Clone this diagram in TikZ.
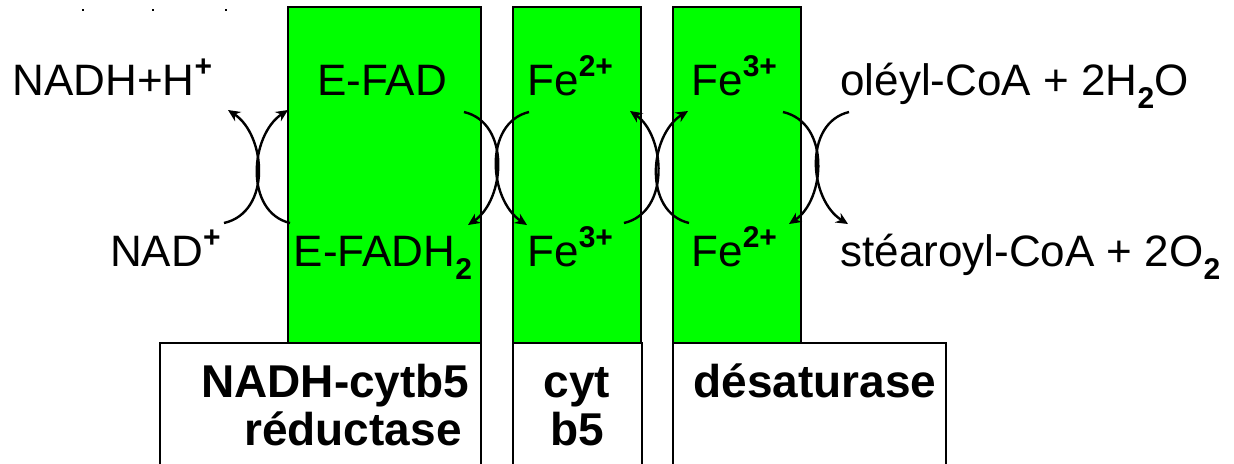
\documentclass[tikz,border=0pt]{standalone}
\usepackage{fontspec}
\setmainfont{Liberation Sans}
\usetikzlibrary{arrows.meta}
\definecolor{Lime}{RGB}{0,255,0}
\newcommand\up[1]{\raisebox{0.42em}{\fontsize{15}{15}\selectfont\bfseries #1}}
\newcommand\dn[1]{\raisebox{-0.3em}{\fontsize{15}{15}\selectfont\bfseries #1}}

\begin{document}
\begin{tikzpicture}[x=0.5pt,y=-0.5pt,
	lbl/.style={inner sep=0pt,font=\fontsize{22}{26}\selectfont},
	boxlbl/.style={inner sep=0pt,font=\fontsize{23}{27}\selectfont\bfseries},
	hop/.style={line width=1.2pt,-{Stealth[length=6pt,width=5.5pt]}}]
	\clip (0,0) rectangle (1234,463);
	\fill[black] (82,9) rectangle (84,11);
	\fill[black] (152,9) rectangle (154,11);
	\fill[black] (225,9) rectangle (227,11);

	\filldraw[fill=Lime,line width=1.3pt] (288,7) rectangle (481,343);
	\filldraw[fill=Lime,line width=1.3pt] (513,7) rectangle (641,343);
	\filldraw[fill=Lime,line width=1.3pt] (673,7) rectangle (801,343);
	\filldraw[fill=white,line width=1.3pt] (160,343) rectangle (481,480);
	\filldraw[fill=white,line width=1.3pt] (513,343) rectangle (642,480);
	\filldraw[fill=white,line width=1.3pt] (673,343) rectangle (946,480);

	\node[lbl,anchor=base west] (nadh) at (12,95) {NADH+H\up{+}};
	\node[lbl,anchor=base east] (nad) at (221,266) {NAD\up{+}};
	\node[lbl,anchor=base] (efad) at (382,95) {E-FAD};
	\node[lbl,anchor=base] (efadh) at (383,266) {E-FADH\dn{2}};
	\node[lbl,anchor=base west] (fetwoa) at (527,95) {Fe\up{2+}};
	\node[lbl,anchor=base west] (fethreea) at (527,266) {Fe\up{3+}};
	\node[lbl,anchor=base west] (fethreeb) at (691,95) {Fe\up{3+}};
	\node[lbl,anchor=base west] (fetwob) at (691,266) {Fe\up{2+}};
	\node[lbl,anchor=base west] (oleyl) at (840,95) {oléyl-CoA + 2H\dn{2}O};
	\node[lbl,anchor=base west] (stear) at (840,266) {stéaroyl-CoA + 2O\dn{2}};

	\node[boxlbl,anchor=base east] (reduca) at (470,397) {NADH-cytb5};
	\node[boxlbl,anchor=base east] (reducb) at (462,445) {réductase};
	\node[boxlbl,anchor=base] (cyta) at (577,397) {cyt};
	\node[boxlbl,anchor=base] (cytb) at (577,445) {b5};
	\node[boxlbl,anchor=base west] (desat) at (693,397) {désaturase};

	% NAD / FAD
	\coordinate (pa1) at (224,223);
	\coordinate (pb1) at (228,110);
	\coordinate (pc1) at (290,223);
	\coordinate (pd1) at (288,110);
	\draw[hop] (pa1) .. controls (272,212) and (266,135) .. (pb1);
	\draw[hop] (pc1) .. controls (244,212) and (250,135) .. (pd1);

	% FAD / cyt b5
	\coordinate (pa2) at (464,112);
	\coordinate (pb2) at (468,225);
	\coordinate (pc2) at (529,112);
	\coordinate (pd2) at (527,225);
	\draw[hop] (pa2) .. controls (511,123) and (505,200) .. (pb2);
	\draw[hop] (pc2) .. controls (483,123) and (489,200) .. (pd2);

	% cyt b5 / desaturase
	\coordinate (pa3) at (624,223);
	\coordinate (pb3) at (630,111);
	\coordinate (pc3) at (689,223);
	\coordinate (pd3) at (688,111);
	\draw[hop] (pa3) .. controls (671,212) and (665,135) .. (pb3);
	\draw[hop] (pc3) .. controls (643,212) and (649,135) .. (pd3);

	% desaturase / acyl-CoA
	\coordinate (pa4) at (783,112);
	\coordinate (pb4) at (789,224);
	\coordinate (pc4) at (849,112);
	\coordinate (pd4) at (848,224);
	\draw[hop] (pa4) .. controls (831,123) and (825,200) .. (pb4);
	\draw[hop] (pc4) .. controls (803,123) and (809,200) .. (pd4);
\end{tikzpicture}
\end{document}
